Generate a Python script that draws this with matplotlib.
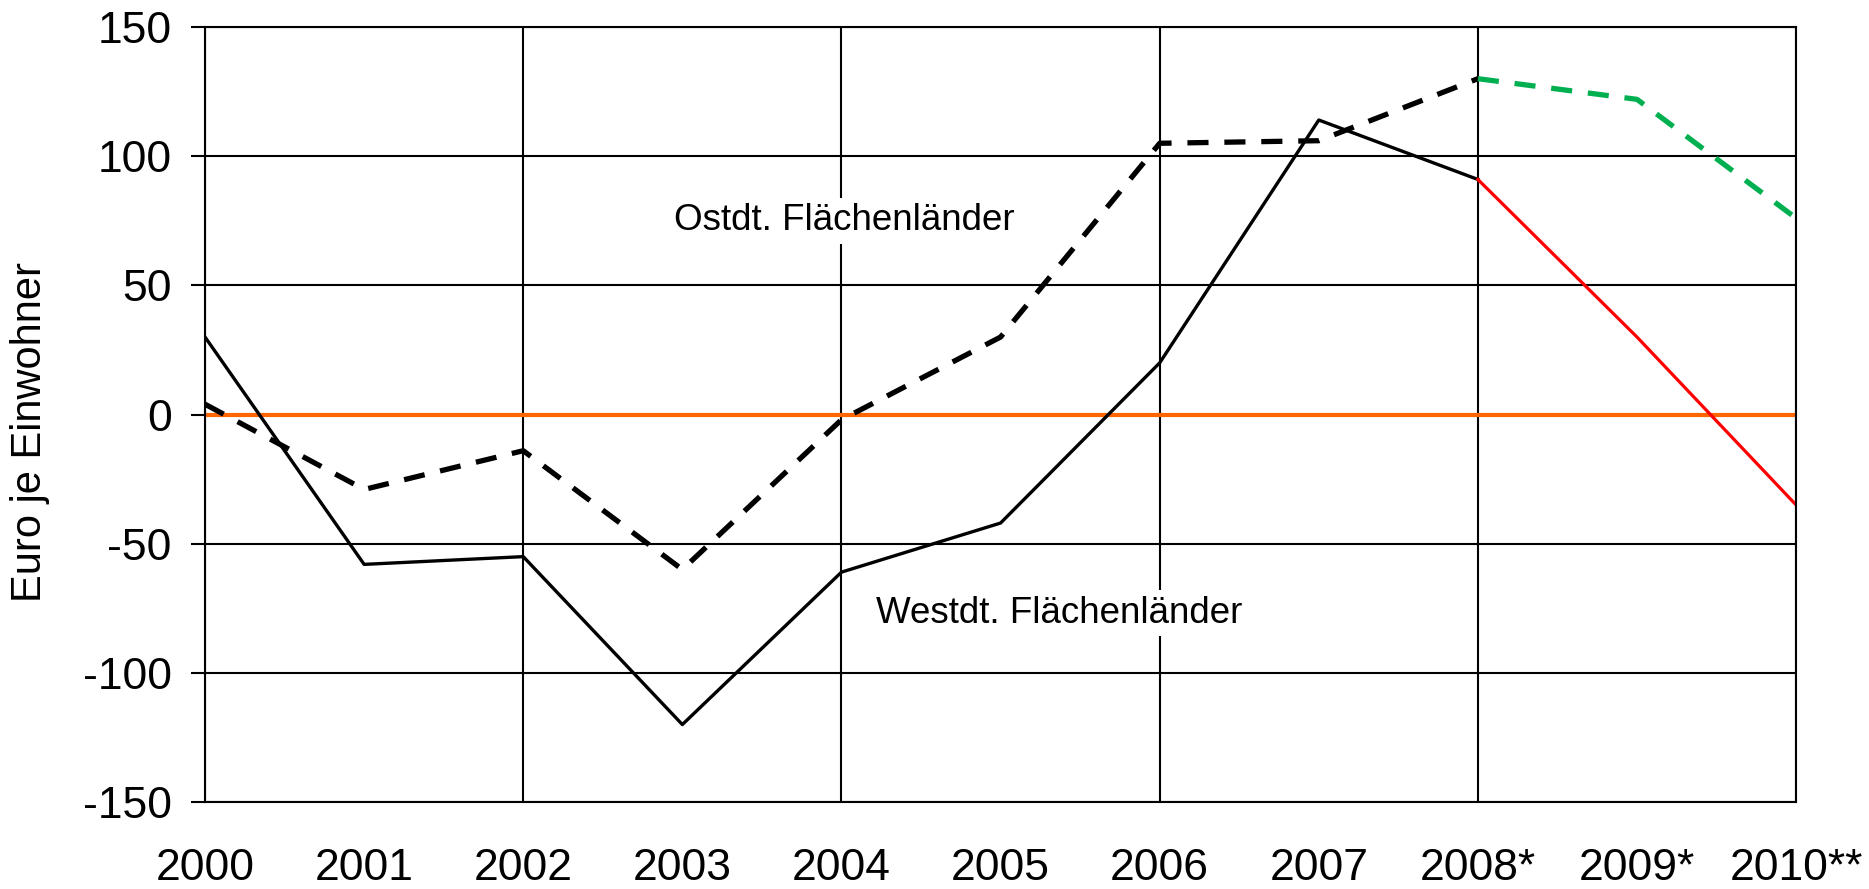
import matplotlib
matplotlib.use("Agg")
import matplotlib.pyplot as plt
import numpy as np

years = ["2000", "2001", "2002", "2003", "2004", "2005", "2006", "2007", "2008*", "2009*", "2010**"]
west = [30, -58, -55, -120, -61, -42, 20, 114, 91, 30, -35]
east = [4, -29, -14, -60, -2, 30, 105, 106, 130, 122, 76]
yticks = [-150, -100, -50, 0, 50, 100, 150]
split = 8  # from 2008* on the series are drawn in colour

plt.rcParams['font.family'] = ['Liberation Sans', 'DejaVu Sans']
plt.rcParams['axes.unicode_minus'] = False

fig = plt.figure(figsize=(18.69, 8.89), dpi=100)
ax = fig.add_axes([0.1097, 0.0978, 0.8513, 0.8718])

x = np.arange(len(years))

# grid: horizontal every 50, vertical every second year
for v in yticks:
    ax.axhline(v, color="black", lw=1.5, zorder=1)
for i in range(0, len(years), 2):
    ax.axvline(i, color="black", lw=1.5, zorder=1)

ax.axhline(0, color="#FF6600", lw=3, zorder=2)

ax.plot(x[:split + 1], west[:split + 1], color="black", lw=2.4, zorder=3)
ax.plot(x[split:], west[split:], color="#FF0000", lw=2.3, zorder=3)
ax.plot(x[:split + 1], east[:split + 1], color="black", lw=3.8, ls=(0, (4, 3)), zorder=4)
ax.plot(x[split:], east[split:], color="#00B050", lw=3.8, ls=(0, (4, 3)), zorder=4)

ax.text(2.95, 75, "Ostdt. Flächenländer", fontsize=26.5, va="center", ha="left",
        bbox=dict(facecolor="white", edgecolor="none", pad=4), zorder=5)
ax.text(4.22, -77, "Westdt. Flächenländer", fontsize=26.5, va="center", ha="left",
        bbox=dict(facecolor="white", edgecolor="none", pad=4), zorder=5)

ax.set_xlim(0, len(years) - 1)
ax.set_ylim(-150, 150)
ax.set_xticks(x)
ax.set_xticklabels(years)
ax.set_yticks(yticks)
ax.tick_params(axis="x", length=0, pad=33, labelsize=32)
ax.tick_params(axis="y", length=10, width=1.5, pad=14, labelsize=32, direction="out")
ax.set_ylabel("Euro je Einwohner", fontsize=30)
ax.yaxis.set_label_coords(-0.0974, 0.478)

for s in ax.spines.values():
    s.set_linewidth(1.5)
    s.set_zorder(6)

fig.savefig("out.png", dpi=100)
